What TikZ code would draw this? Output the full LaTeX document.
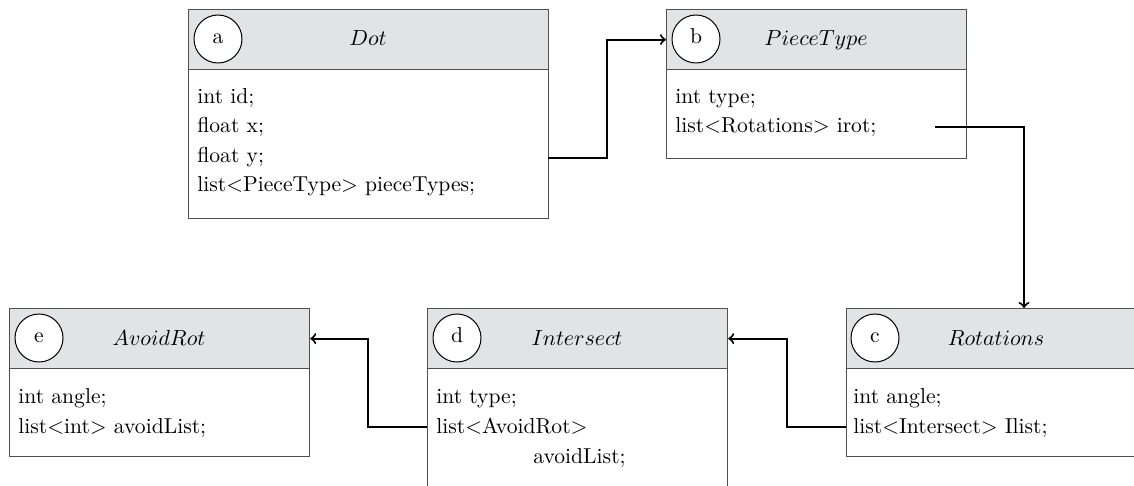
\documentclass[tikz,border=0pt]{standalone}
\definecolor{hdrgray}{RGB}{226,227,229}
\definecolor{boxgray}{RGB}{80,80,80}
\begin{document}
\begin{tikzpicture}[x=0.5pt,y=-0.5pt,
  every node/.style={font=\fontsize{10.8}{13}\selectfont},
  hdr/.style={draw=boxgray, fill=hdrgray, line width=0.6pt, minimum width=150pt, minimum height=30pt, inner sep=0pt, anchor=north west},
  bodybox/.style={draw=boxgray, fill=white, line width=0.6pt, minimum width=150pt, inner sep=0pt, anchor=north west},
  lbl/.style={circle, draw=black, fill=white, line width=0.5pt, minimum size=24pt, inner sep=0pt, text height=1.1ex, text depth=0pt},
  ttl/.style={anchor=base, inner sep=0pt},
  fld/.style={anchor=base west, inner sep=0pt},
  conn/.style={draw=black, line width=1pt, ->},
]
\useasboundingbox (0,0) rectangle (1134,486);
\clip (0,0) rectangle (1134,486);

% ---- a: Dot
\node[hdr, minimum width=180pt] (ahead) at (188,9) {};
\node[bodybox, minimum width=180pt, minimum height=74.5pt] (abody) at (188,69) {};
\node[lbl] (acirc) at (218,39) {a};
\node[ttl] (attl) at (368,46) {$Dot$};
\node[fld] (a1) at (197,104) {int id;};
\node[fld] (a2) at (197,133) {float x;};
\node[fld] (a3) at (197,163) {float y;};
\node[fld] (a4) at (197,192) {list<PieceType> pieceTypes;};

% ---- b: PieceType
\node[hdr] (bhead) at (666,9) {};
\node[bodybox, minimum height=44.5pt] (bbody) at (666,69) {};
\node[lbl] (bcirc) at (696,39) {b};
\node[ttl] (bttl) at (816,46) {$PieceType$};
\node[fld] (b1) at (675,104) {int type;};
\node[fld] (b2) at (675,133) {list<Rotations> irot;};

% ---- c: Rotations
\node[hdr] (chead) at (846,308) {};
\node[bodybox, minimum height=44pt] (cbody) at (846,368) {};
\node[lbl] (ccirc) at (875,338) {c};
\node[ttl] (cttl) at (996,345) {$Rotations$};
\node[fld] (c1) at (853,403) {int angle;};
\node[fld] (c2) at (853,433) {list<Intersect> Ilist;};

% ---- d: Intersect
\node[hdr] (dhead) at (427,308) {};
\node[bodybox, minimum height=75pt] (dbody) at (427,368) {};
\node[lbl] (dcirc) at (457,338) {d};
\node[ttl] (dttl) at (577,345) {$Intersect$};
\node[fld] (d1) at (436,403) {int type;};
\node[fld] (d2) at (436,433) {list<AvoidRot>};
\node[fld] (d3) at (533,463) {avoidList;};

% ---- e: AvoidRot
\node[hdr] (ehead) at (9,308) {};
\node[bodybox, minimum height=44pt] (ebody) at (9,368) {};
\node[lbl] (ecirc) at (39,338) {e};
\node[ttl] (ettl) at (159,345) {$AvoidRot$};
\node[fld] (e1) at (18,403) {int angle;};
\node[fld] (e2) at (18,433) {list<int> avoidList;};

% ---- connectors
\coordinate (aout) at (548,158);
\coordinate (bout) at (935,127);
\coordinate (cin) at (1024,308);
\draw[conn] (aout) -- ++(59,0) |- (bhead.west);
\draw[conn] (bout) -| (cin);
\draw[conn] (cbody.west |- 0,427) -- ++(-59,0) |- (dhead.east);
\draw[conn] (dbody.west |- 0,427) -- ++(-59,0) |- (ehead.east);
\end{tikzpicture}
\end{document}
